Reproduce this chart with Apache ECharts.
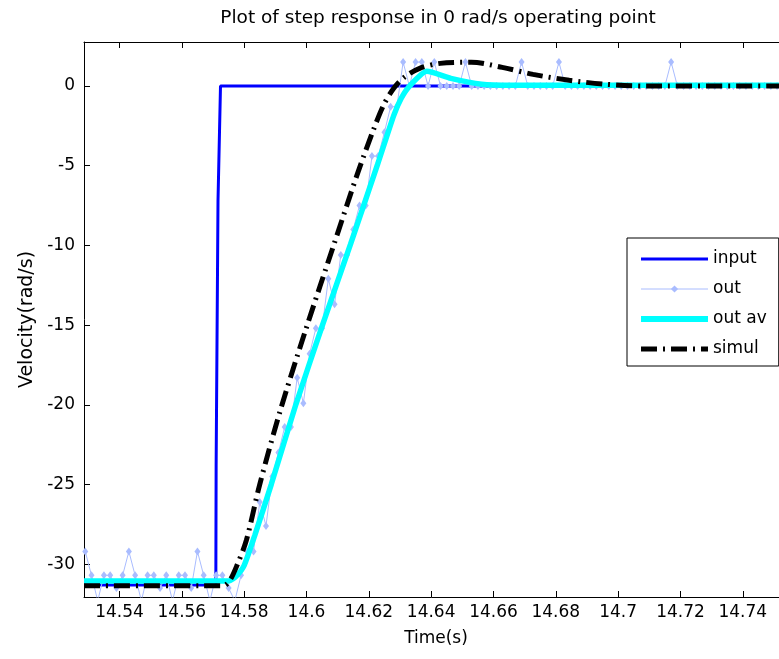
<!DOCTYPE html>
<html><head><meta charset="utf-8">
<script src="https://cdn.jsdelivr.net/npm/echarts@6.0.0/dist/echarts.min.js"></script>
<style>html,body{margin:0;padding:0;background:#fff}#c{width:779px;height:659px}</style>
</head><body><div id="c"></div>
<script>
// ---- data ----
const xTicks = [14.54, 14.56, 14.58, 14.6, 14.62, 14.64, 14.66, 14.68, 14.7, 14.72, 14.74];
const yTicks = [-30, -25, -20, -15, -10, -5, 0];
const seriesNames = ['input', 'out', 'out av', 'simul'];

const inputTime  = [14.5286, 14.5709, 14.5710, 14.5716, 14.5724, 14.7545];
const inputValue = [-31.3,   -31.3,   -23.8,   -7.2,    0,       0];

const outStart = 14.529;   // first sample time (s)
const outStep  = 0.002;    // sample period (s)
const outValue = [
  -29.2, -30.7, -32.3, -30.7, -30.7, -31.5, -30.7, -29.2, -30.7, -32.3,
  -30.7, -30.7, -31.5, -30.7, -32.3, -30.7, -30.7, -31.5, -29.2, -30.7,
  -32.3, -30.7, -30.7, -31.5, -32.3, -30.7, -29.2, -29.2, -26.1, -27.6,
  -24.5, -23.0, -21.4, -21.4, -18.3, -19.9, -16.8, -15.2, -15.2, -12.1,
  -13.7, -10.6, -10.6, -9.0, -7.5, -7.5, -4.4, -4.4, -2.9, -1.3,
  -1.3, 1.5, 0, 1.5, 1.5, 0, 1.5, 0, 0, 0,
  0, 1.5, 0, 0, 0, 0, 0, 0, 0, 0,
  1.5, 0, 0, 0, 0, 0, 1.5, 0, 0, 0,
  0, 0, 0, 0, 0, 0, 0, 0, 0, 0,
  0, 0, 0, 0, 1.5, 0, 0, 0, 0, 0,
  0, 0, 0, 0, 0, 0, 0, 0, 0, 0,
  0, 0, 0, 0
];

const outAvTime  = [14.5286, 14.5751, 14.5774, 14.5800, 14.5834, 14.5887, 14.5966, 14.6052, 14.6141, 14.6228, 14.6280, 14.6304, 14.6330, 14.6386, 14.6463, 14.6562, 14.6661, 14.7545];
const outAvValue = [-31.05,  -31.05,  -30.76,  -30.07,  -28.19,  -24.99,  -19.97,  -14.95,  -9.94,   -4.92,   -1.84,   -0.77,   -0.02,   0.92,    0.48,    0.11,    0.05,    0.05];

const simulTime  = [14.5286, 14.5734, 14.5754, 14.5777, 14.5807, 14.5850, 14.5916, 14.5999, 14.6088, 14.6165, 14.6214, 14.6247, 14.6280, 14.6314, 14.6363, 14.6429, 14.6529, 14.6628, 14.6727, 14.6843, 14.6959, 14.7091, 14.7545];
const simulValue = [-31.35,  -31.35,  -31.02,  -30.07,  -28.5,   -24.99,  -20.35,  -15.2,   -9.94,   -5.42,   -2.79,   -1.21,   -0.14,   0.55,    1.11,    1.42,    1.49,    1.17,    0.73,    0.36,    0.11,    0.0,     0.0];

const X_MIN = 14.5286, X_MAX = 14.7545;
const Y_MIN = -32.06, Y_MAX = 2.76;

// ---- chart ----
const FONT = 'DejaVu Sans';
const FS = 17;
const SIMUL_DASH = [16, 6, 2, 6];
const zip = (a, b) => a.map((t, i) => [t, b[i]]);
const outData = outValue.map((v, i) => [+(outStart + i * outStep).toFixed(4), v]);
const fmt = v => String(Math.round(v * 100) / 100);

const axisCommon = {
  type: 'value', min: X_MIN, max: X_MAX,
  axisLine: { show: true, onZero: false, lineStyle: { color: '#000', width: 1 } },
  axisTick: { show: true, inside: true, length: 6, customValues: xTicks, lineStyle: { color: '#000', width: 1 } },
  splitLine: { show: false }
};

const chart = echarts.init(document.getElementById('c'), null, { renderer: 'canvas' });
chart.setOption({
  animation: false,
  backgroundColor: '#fff',
  title: {
    text: 'Plot of step response in 0 rad/s operating point',
    left: 438, top: 9, textAlign: 'center', padding: 0,
    textStyle: { fontFamily: FONT, fontSize: 18.5, fontWeight: 'normal', color: '#000' }
  },
  grid: { left: 84, right: -9, top: 42, bottom: 62, containLabel: false, outerBoundsMode: 'none' },
  legend: {
    orient: 'vertical', left: 627, top: 238,
    padding: [11, 12, 7, 11],
    itemWidth: 67, itemHeight: 9, itemGap: 10,
    backgroundColor: '#fff', borderColor: '#000', borderWidth: 1, borderRadius: 0,
    selectedMode: false,
    textStyle: { fontFamily: FONT, fontSize: FS, color: '#000', lineHeight: 20 },
    data: [
      { name: seriesNames[0], itemStyle: { opacity: 0 }, lineStyle: { width: 3, color: '#0000ff' } },
      { name: seriesNames[1], lineStyle: { width: 1, color: '#a9bcff' } },
      { name: seriesNames[2], itemStyle: { opacity: 0 }, lineStyle: { width: 6, color: '#00ffff' } },
      { name: seriesNames[3], itemStyle: { opacity: 0 }, lineStyle: { width: 5, color: '#000', type: SIMUL_DASH, cap: 'butt' } }
    ]
  },
  xAxis: [
    Object.assign({}, axisCommon, {
      position: 'bottom',
      name: 'Time(s)', nameLocation: 'middle', nameGap: 33,
      nameTextStyle: { fontFamily: FONT, fontSize: FS, color: '#000' },
      axisLabel: { show: true, customValues: xTicks, formatter: fmt, margin: 7, fontFamily: FONT, fontSize: FS, color: '#000' }
    }),
    Object.assign({}, axisCommon, { position: 'top', axisLabel: { show: false } })
  ],
  yAxis: [{
    type: 'value', min: Y_MIN, max: Y_MAX, position: 'left',
    name: 'Velocity(rad/s)', nameLocation: 'middle', nameGap: 46, nameRotate: 90,
    nameTextStyle: { fontFamily: FONT, fontSize: 19, color: '#000' },
    axisLine: { show: true, onZero: false, lineStyle: { color: '#000', width: 1 } },
    axisTick: { show: true, inside: true, length: 6, customValues: yTicks, lineStyle: { color: '#000' } },
    axisLabel: { show: true, customValues: yTicks, formatter: v => String(Math.round(v)), margin: 9, fontFamily: FONT, fontSize: FS, color: '#000' },
    splitLine: { show: false }
  }],
  series: [
    {
      name: seriesNames[0], type: 'line', data: zip(inputTime, inputValue),
      symbol: 'none', color: '#0000ff',
      lineStyle: { color: '#0000ff', width: 3 }, z: 2
    },
    {
      name: seriesNames[1], type: 'line', data: outData,
      symbol: 'diamond', symbolSize: [6, 8], showSymbol: true, color: '#a9bcff',
      itemStyle: { color: '#a9bcff' },
      lineStyle: { color: '#a9bcff', width: 1 }, z: 3
    },
    {
      name: seriesNames[2], type: 'line', data: zip(outAvTime, outAvValue),
      symbol: 'none', smooth: 0.2, color: '#00ffff',
      lineStyle: { color: '#00ffff', width: 5.5 }, z: 4
    },
    {
      name: seriesNames[3], type: 'line', data: zip(simulTime, simulValue),
      symbol: 'none', smooth: 0.3, color: '#000000',
      lineStyle: { color: '#000000', width: 5, type: SIMUL_DASH, cap: 'butt' }, z: 5
    }
  ]
});
</script></body></html>
